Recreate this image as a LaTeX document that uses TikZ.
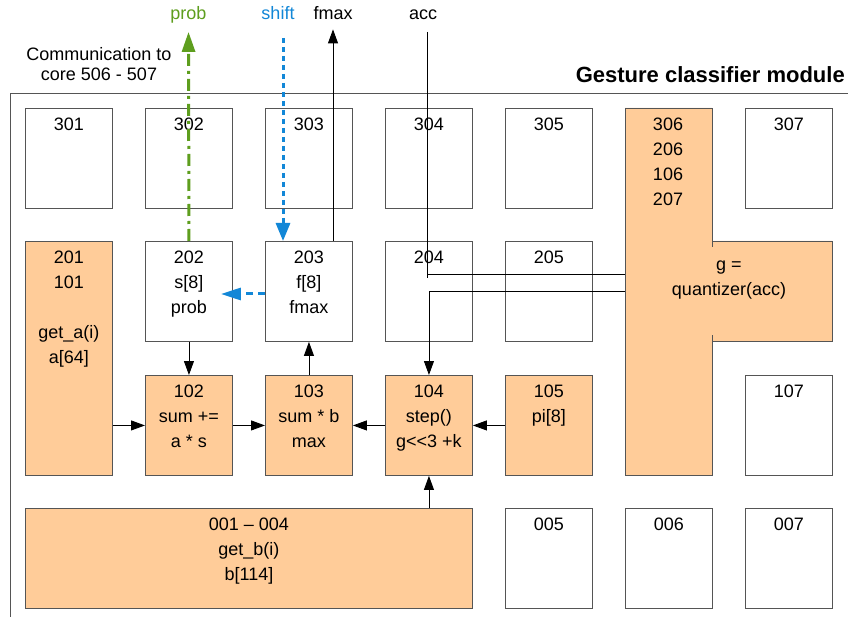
\documentclass[tikz,border=0pt]{standalone}
\usepackage{fontspec}
\setmainfont{Liberation Sans}
\usetikzlibrary{arrows.meta, positioning, calc}
\definecolor{coreorange}{RGB}{255, 204, 153}
\definecolor{probgreen}{RGB}{94, 158, 30}
\definecolor{shiftblue}{RGB}{18, 135, 215}
\definecolor{edgegray}{RGB}{85, 85, 85}

\begin{document}
\begin{tikzpicture}[
  x=1pt, y=-1pt,
  font=\fontsize{18}{25}\selectfont,
  core/.style={rectangle, draw=edgegray, line width=0.9pt, fill=white,
               minimum width=87pt, minimum height=100pt, inner sep=0pt,
               anchor=north west,
               label={[anchor=north, yshift=-10pt, inner sep=0pt, align=center]north:{#1}}},
  busy/.style={core={#1}, fill=coreorange},
  arr/.style={-{Triangle[length=14pt, width=10pt]}, line width=0.9pt},
  tag/.style={anchor=base, inner sep=0pt}
]
  \path[use as bounding box, fill=white] (0,0) rectangle (848,617);

  % module frame
  \draw[edgegray, line width=0.9pt] (10,617) -- (10,93) -- (848,93);
  \node[anchor=base east, inner sep=0pt, font=\bfseries\fontsize{22}{26}\selectfont] (title) at (845,83) {Gesture classifier module};

  % row 3
  \node[core=301] (c301) at (25,108) {};
  \node[core=302] (c302) at (145,108) {};
  \node[core=303] (c303) at (265,108) {};
  \node[core=304] (c304) at (385,108) {};
  \node[core=305] (c305) at (505,108) {};
  \node[core=307] (c307) at (745,108) {};

  % row 2
  \node[busy={201\\101\\[25pt]get\_a(i)\\a[64]}, minimum height=234pt] (c201) at (25,241) {};
  \node[core={202\\s[8]\\prob}] (c202) at (145,241) {};
  \node[core={203\\f[8]\\fmax}] (c203) at (265,241) {};
  \node[core=204] (c204) at (385,241) {};
  \node[core=205] (c205) at (505,241) {};

  % row 1
  \node[busy={102\\sum +=\\a * s}] (c102) at (145,375) {};
  \node[busy={103\\sum * b\\max}] (c103) at (265,375) {};
  \node[busy={104\\step()\\g<{}<3 +k}] (c104) at (385,375) {};
  \node[busy={105\\pi[8]}] (c105) at (505,375) {};
  \node[core=107] (c107) at (745,375) {};

  % row 0
  \node[busy={001 -- 004\\get\_b(i)\\b[114]}, minimum width=447pt] (c001) at (25,508) {};
  \node[core=005] (c005) at (505,508) {};
  \node[core=006] (c006) at (625,508) {};
  \node[core=007] (c007) at (745,508) {};

  % quantizer cores
  \draw[draw=edgegray, line width=0.9pt, fill=coreorange]
    (625,108) -- (712,108) -- (712,241) -- (832,241) -- (832,341)
    -- (712,341) -- (712,475) -- (625,475) -- cycle;
  \draw[edgegray, line width=0.9pt] (712,241) -- (712,247) (712,335) -- (712,341);
  \node[anchor=north, inner sep=0pt, align=center] (c306) at (668,118) {306\\206\\106\\207};
  \node[inner sep=0pt, align=center] (quant) at (729,280) {g =\\quantizer(acc)};

  % outside signals
  \node[tag, text=probgreen] (prob) at (188.5,20) {prob};
  \node[tag, text=shiftblue] (shift) at (278,20) {shift};
  \node[tag] (fmax) at (333,20) {fmax};
  \node[tag] (acc) at (423,20) {acc};
  \node[anchor=north, inner sep=0pt, align=center, font=\fontsize{18}{20}\selectfont] (comm) at (99,47) {Communication to\\core 506 - 507};
  \coordinate (shiftin) at (283,38);
  \coordinate (acctop) at (427,32);
  \coordinate (qin) at (625,274);
  \coordinate (qout) at (625,291);

  \draw[probgreen, line width=3pt, dash pattern=on 12pt off 5pt on 3pt off 5pt,
        -{Triangle[length=20pt, width=13pt]}, shorten >=8pt] (c202.north) -- (prob.south);
  \draw[shiftblue, line width=3pt, dash pattern=on 5pt off 4pt,
        -{Triangle[length=18pt, width=14pt]}] (shiftin) -- (shiftin |- c203.north);
  \draw[shiftblue, line width=3pt, dash pattern=on 7pt off 5pt,
        -{Triangle[length=20pt, width=12pt]}, shorten >=-12pt] (c203.west |- 0,294) -- (c202.east |- 0,294);
  \draw[arr, shorten >=9pt] (c203.north -| fmax) -- (fmax.south);
  \draw[line width=0.9pt] (acctop) -- (acctop |- 0,278);
  \draw[line width=0.9pt] (acctop |- qin) -- (qin);
  \draw[arr] (qout) -| (c104.north);

  \draw[arr] (c202) -- (c102);
  \draw[arr] (c103) -- (c203);
  \draw[arr] (c201.east |- c102) -- (c102);
  \draw[arr] (c102) -- (c103);
  \draw[arr] (c104) -- (c103);
  \draw[arr] (c105) -- (c104);
  \draw[arr] (c001.north -| c104) -- (c104);
\end{tikzpicture}
\end{document}
